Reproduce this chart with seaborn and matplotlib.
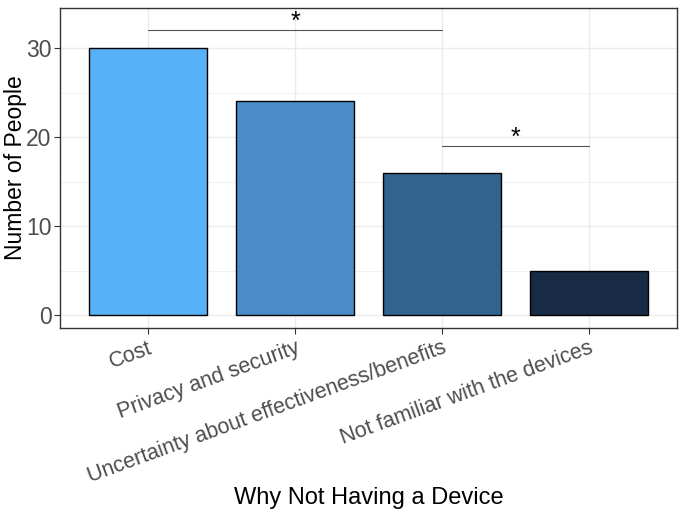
import matplotlib
matplotlib.use("Agg")
import matplotlib.pyplot as plt
import seaborn as sns
import pandas as pd
from matplotlib.ticker import MultipleLocator

reasons = ["Cost", "Privacy and security",
           "Uncertainty about effectiveness/benefits",
           "Not familiar with the devices"]
counts = [30, 24, 16, 5]
bar_colors = ["#56B1F7", "#4A8DC8", "#31638F", "#172C44"]
yticks = [0, 10, 20, 30]
# significance brackets: (start category index, end category index, height, label)
sig_start = [0, 2]
sig_end = [2, 3]
sig_height = [32, 19]
sig_label = ["*", "*"]

sns.set_theme(style="white")
plt.rcParams["font.family"] = ["Liberation Sans", "DejaVu Sans"]

df = pd.DataFrame({"reason": reasons, "count": counts})

fig = plt.figure(figsize=(6.84, 5.13), dpi=100)
ax = fig.add_axes([60 / 684, 1 - 328 / 513, 617 / 684, 320 / 513])

sns.barplot(data=df, x="reason", y="count", hue="reason", palette=bar_colors,
            order=reasons, hue_order=reasons, legend=False, width=0.8,
            saturation=1, edgecolor="black", linewidth=1.0, ax=ax, zorder=3)

ax.set_xlim(-0.6, 3.6)
ax.set_ylim(-1.46, 34.5)
ax.set_yticks(yticks)
ax.yaxis.set_minor_locator(MultipleLocator(5))
ax.grid(True, which="major", color="#EBEBEB", linewidth=1.0, zorder=0)
ax.grid(True, which="minor", axis="y", color="#EBEBEB", linewidth=0.5, zorder=0)
ax.set_axisbelow(True)
for s in ax.spines.values():
    s.set_color("#333333")
    s.set_linewidth(1.0)
    s.set_visible(True)

ax.tick_params(axis="both", which="major", length=4, width=0.8, color="#333333",
               labelcolor="#4D4D4D", bottom=True, left=True)
ax.tick_params(axis="y", which="minor", length=0, left=False)
ax.tick_params(axis="y", pad=2, labelsize=16.5)
ax.tick_params(axis="x", pad=3)
ax.set_xticks(range(len(reasons)))
ax.set_xticklabels(reasons, rotation=20, ha="right", rotation_mode="anchor",
                   fontsize=15.5, color="#4D4D4D")

ax.set_xlabel("Why Not Having a Device", fontsize=17, color="black")
ax.set_ylabel("Number of People", fontsize=16.5, color="black")
ax.xaxis.label.set_va("center")
ax.yaxis.label.set_va("center")
ax.xaxis.set_label_coords(0.5, (328 - 498) / 320)
ax.yaxis.set_label_coords((16 - 60) / 617, 0.5)

for a, b, h, t in zip(sig_start, sig_end, sig_height, sig_label):
    ax.plot([a, b], [h, h], color="#555555", linewidth=0.8, zorder=4)
    ax.text((a + b) / 2, h - 0.4, t, ha="center", va="bottom", fontsize=18,
            color="black", zorder=4)

fig.savefig("out.png", dpi=100)
